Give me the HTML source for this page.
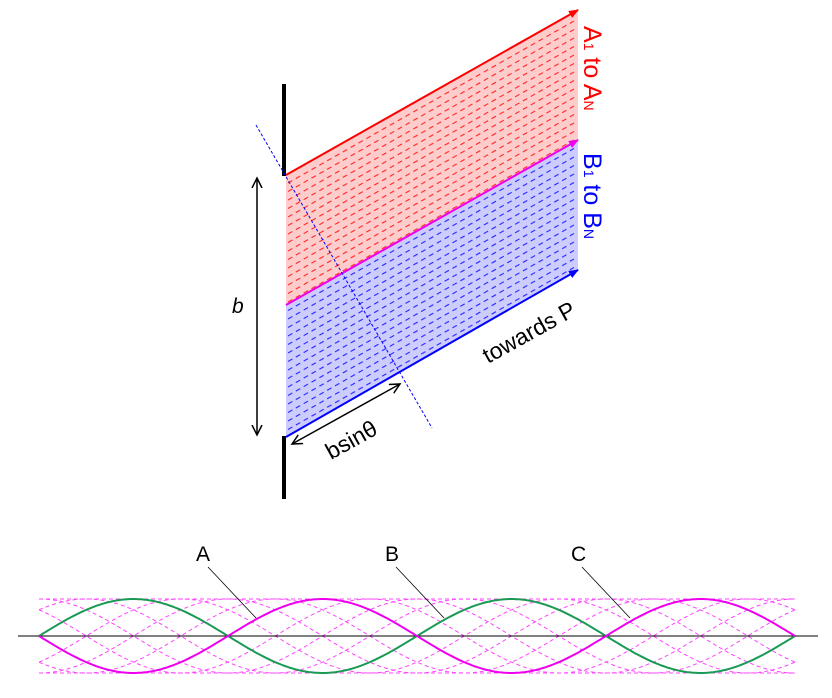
<!DOCTYPE html>
<html><head><meta charset="utf-8"><style>
html,body{margin:0;padding:0;background:#fff;}
svg{display:block;font-family:"Liberation Sans",sans-serif;}
</style></head><body>
<svg id="s" width="832" height="698" viewBox="0 0 832 698" xmlns="http://www.w3.org/2000/svg">
<defs>
<marker id="ar" markerWidth="10" markerHeight="10" refX="9" refY="5" orient="auto" markerUnits="userSpaceOnUse"><path d="M0,1 L10,5 L0,9 Z" fill="#f00"/></marker>
<marker id="am" markerWidth="10" markerHeight="10" refX="9" refY="5" orient="auto" markerUnits="userSpaceOnUse"><path d="M0,1 L10,5 L0,9 Z" fill="#e0e"/></marker>
<marker id="ab" markerWidth="10" markerHeight="10" refX="9" refY="5" orient="auto" markerUnits="userSpaceOnUse"><path d="M0,1 L10,5 L0,9 Z" fill="#00f"/></marker>
<marker id="ak" markerWidth="12" markerHeight="12" refX="10" refY="6" orient="auto-start-reverse" markerUnits="userSpaceOnUse"><path d="M0,1 L10,6 L0,11" fill="none" stroke="#000" stroke-width="1.5"/></marker>
</defs>
<polygon points="286,175 578,10 578,140 286,305" fill="#ffcccc"/>
<polygon points="286,305 578,140 578,270 286,437" fill="#ccccff"/>
<g id="dash"></g>
<line x1="286" y1="175" x2="578" y2="10" stroke="#f00" stroke-width="2" marker-end="url(#ar)"/>
<line x1="286" y1="305" x2="578" y2="140" stroke="#e0e" stroke-width="2" marker-end="url(#am)"/>
<line x1="286" y1="437" x2="578" y2="270" stroke="#00f" stroke-width="2" marker-end="url(#ab)"/>
<line x1="284" y1="84" x2="284" y2="176" stroke="#000" stroke-width="4"/>
<line x1="284" y1="436" x2="284" y2="499" stroke="#000" stroke-width="4"/>
<line x1="256" y1="125" x2="432" y2="428" stroke="#00f" stroke-width="1" stroke-dasharray="3,2"/>
<line x1="257" y1="178" x2="257" y2="435" stroke="#000" stroke-width="1.5" marker-start="url(#ak)" marker-end="url(#ak)"/>
<text x="232" y="313" font-size="21" font-style="italic">b</text>
<line x1="292" y1="444" x2="400" y2="384" stroke="#000" stroke-width="1.5" marker-start="url(#ak)" marker-end="url(#ak)"/>
<text transform="translate(331,460) rotate(-29)" font-size="23">bsinθ</text>
<text transform="translate(488,364) rotate(-29)" font-size="23">towards P</text>
<text transform="translate(584,26) rotate(90)" font-size="25" fill="#f00">A<tspan font-size="14">1</tspan> to A<tspan font-size="14">N</tspan></text>
<text transform="translate(584,153) rotate(90)" font-size="25" fill="#00f">B<tspan font-size="14">1</tspan> to B<tspan font-size="14">N</tspan></text>
<g id="waves"></g>
<line x1="18" y1="636" x2="818" y2="636" stroke="#000" stroke-width="1"/>
<g id="main"></g>
<text x="196" y="561" font-size="21">A</text>
<text x="385" y="561" font-size="21">B</text>
<text x="571" y="561" font-size="21">C</text>
<line x1="208" y1="567" x2="256" y2="618" stroke="#000" stroke-width="0.8"/>
<line x1="396" y1="567" x2="444" y2="618" stroke="#000" stroke-width="0.8"/>
<line x1="582" y1="567" x2="630" y2="618" stroke="#000" stroke-width="0.8"/>
</svg>
<script>
var NS="http://www.w3.org/2000/svg";
function add(g,tag,a){var e=document.createElementNS(NS,tag);for(var k in a)e.setAttribute(k,a[k]);document.getElementById(g).appendChild(e);}
for(var y=183;y<436;y+=8.5){
 var c=y<303?"#f33":"#33f";
 add("dash","line",{x1:288,y1:y,x2:574,y2:y-162,stroke:c,"stroke-width":1.2,"stroke-dasharray":"5,4"});
}
var x0=39,L=378,A=37,yc=636;
function sinPath(ph,sign){var d="";for(var x=x0;x<=795;x+=2){var y=yc-sign*A*Math.sin(2*Math.PI*(x-x0)/L+ph);d+=(x==x0?"M":"L")+x+","+y.toFixed(1);}return d;}
for(var i=1;i<8;i++){add("waves","path",{d:sinPath(i*Math.PI/4,1),fill:"none",stroke:"#f4f","stroke-width":1,"stroke-dasharray":"4,3"});}
add("waves","line",{x1:39,y1:599,x2:795,y2:599,stroke:"#f4f","stroke-dasharray":"4,3"});
add("waves","line",{x1:39,y1:673,x2:795,y2:673,stroke:"#f4f","stroke-dasharray":"4,3"});
add("main","path",{d:sinPath(0,1),fill:"none",stroke:"#1a9a55","stroke-width":2});
add("main","path",{d:sinPath(0,-1),fill:"none",stroke:"#e0e","stroke-width":2});
</script>
</body></html>
